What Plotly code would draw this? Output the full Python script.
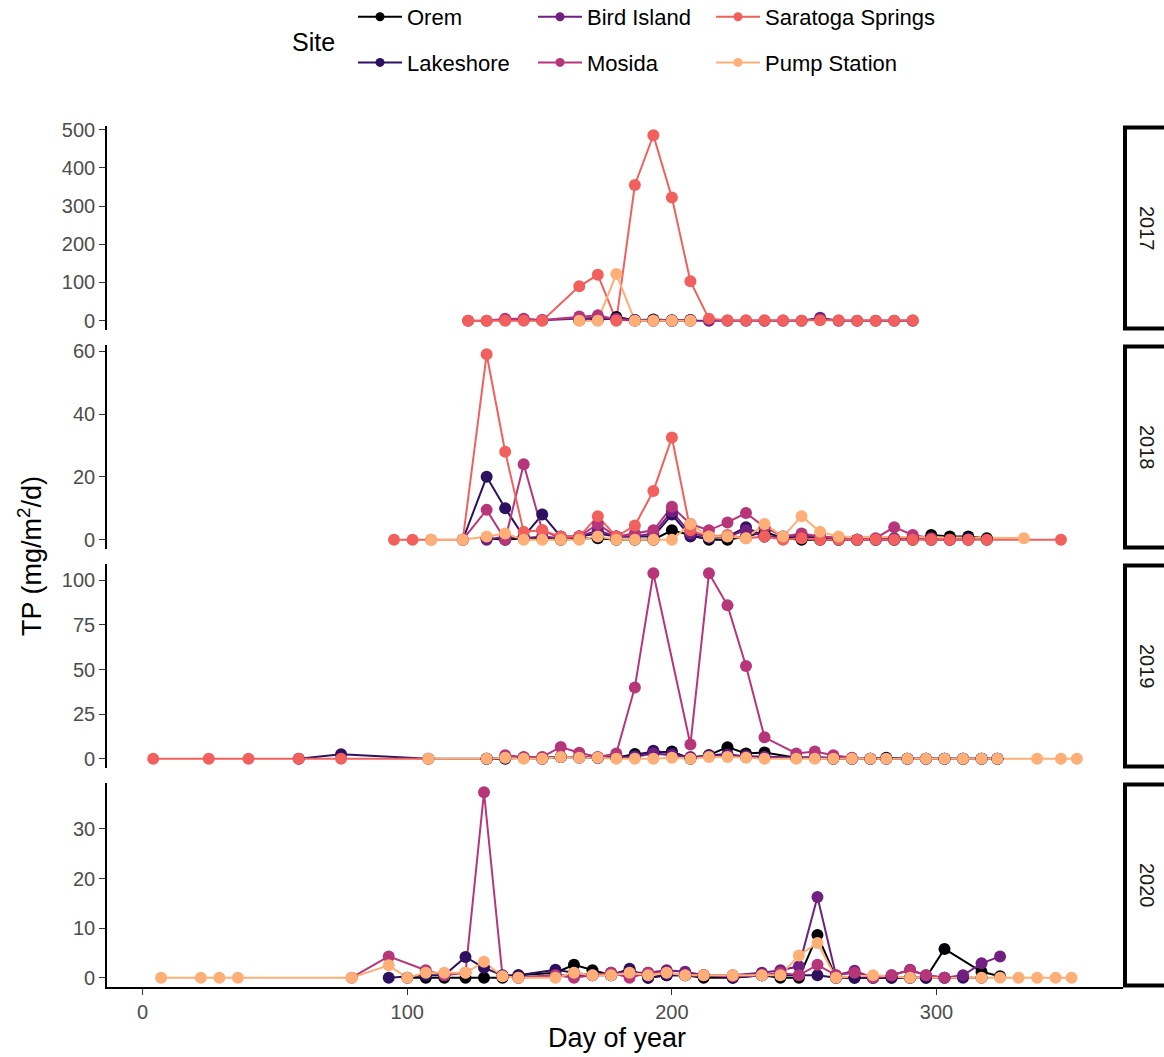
import plotly.graph_objects as go

# ---- sampling days (day of year) per year ----
day_2017 = [123, 130, 137, 144, 151, 158, 165, 172, 179, 186, 193, 200, 207, 214,
            221, 228, 235, 242, 249, 256, 263, 270, 277, 284, 291]
day_2018 = [95, 102, 109, 121, 130, 137, 144, 151, 158, 165, 172, 179, 186, 193, 200,
            207, 214, 221, 228, 235, 242, 249, 256, 263, 270, 277, 284, 291, 298, 305,
            312, 319, 333, 347]
day_2019 = [4, 25, 40, 59, 75, 108, 130, 137, 144, 151, 158, 165, 172, 179, 186, 193,
            200, 207, 214, 221, 228, 235, 247, 254, 261, 268, 275, 281, 289, 296, 303,
            310, 317, 323, 338, 347, 353]
day_2020 = [7, 22, 29, 36, 79, 93, 100, 107, 114, 122, 129, 136, 142, 156, 163, 170,
            177, 184, 191, 198, 205, 212, 223, 234, 241, 248, 255, 262, 269, 276, 283,
            290, 296, 303, 310, 317, 324, 331, 338, 345, 351]

N = None

# ---- TP flux (mg/m2/d); None = no sample that week ----
orem_2017 = [N, N, N, N, N, N, 1, 2, 10, 1, 3, 1, 2, N, N, N, N, N, N, N, N, N, N, N, N]
lakeshore_2017 = [N, N, N, N, N, N, 2, 3, 6, 2, 1, 0, 1, N, N, N, N, N, N, N, N, N, N, N, N]
bird_2017 = [N, N, 2, 3, 1, N, 6, 8, 5, 1, 0, 0, 0, 0, 0, 0, 0, 0, 0, 8, 0, 0, 0, 0, 0]
mosida_2017 = [0, 0, 5, 5, 2, N, 11, 14, 3, 0, 1, 0, 1, N, N, N, N, N, N, N, N, N, N, N, N]
saratoga_2017 = [0, 0, 0, 0, 0, N, 90, 120, 0, 355, 485, 322, 103, 5, 1, 1, 1, 1, 0, 1,
                 1, 0, 0, 0, 1]
pump_2017 = [N, N, N, N, N, N, 0, 0, 122, 0, 0, 0, 0, N, N, N, N, N, N, N, N, N, N, N, N]

orem_2018 = [N, N, N, N, 0.5, 0, 0.5, 0.5, 0, 0.5, 0.5, 0, 0, 0, 3, 1.5, 0, 0, 1, 2.5,
             0.5, 0, 0, 0, 0, 0, 0, 0, 1.5, 1, 1, 0.5, N, N]
lakeshore_2018 = [N, N, N, 0, 20, 10, 1, 8, 1, 1, 2, 1, 1, 1, 8, 1, 0.5, 1, 4, 1, 0.5, 1,
                  0.5, 0, 0, 0, 0, 0.5, 0, 0, 0.5, 0, N, N]
bird_2018 = [N, N, N, N, 0, 1, 0.5, 1, 0.5, 1, 3, 1, 1, 2, 9, 2, 1, 1, 3, 1, 1, 1.5, 1,
             0.5, 0, 0, 0.5, 0.5, 0, 0, 0, N, N, N]
mosida_2018 = [N, N, N, 0, 9.5, 0, 24, 3, 0.5, 1, 5, 1, 2, 3, 10.5, 5, 3, 5.5, 8.5, 4, 1,
               2, 1, 0.5, 0, 0.5, 4, 1.5, 0.5, 0, 0, N, N, N]
saratoga_2018 = [0, 0, 0, 0, 59, 28, 2.5, 3, 1, 1, 7.5, 1, 4.5, 15.5, 32.5, 3, 1, 1.5, 0.5,
                 1, 0, 0.5, 0, 0, 0, 0, 0, 0, 0, 0, 0, 0, N, 0]
pump_2018 = [N, N, 0, 0, 1, 2, 0, 0, 0, 0, 1, 0, 0, 0, 0, 5, 1, 1, 0.5, 5, 1, 7.5, 2.5, 1,
             N, N, N, N, N, N, N, N, 0.5, N]

orem_2019 = [N, N, N, N, N, N, 0, 0, 0.5, 0.5, 1, 1, 0.5, 0.5, 2.7, 3.5, 4, 0, 2, 6.5, 3,
             3.5, 0.5, 0.5, 0, 0, 0, 0.5, 0, 0, 0, 0, 0, 0, N, N, N]
lakeshore_2019 = [N, N, N, 0, 2.5, 0, 0, 0.5, 0.5, 0, 1, 0.5, 0.5, 1, 1.5, 4.5, 3, 0.5, 2,
                  2.5, 1, 1, 0.5, 0.5, 0, 0, 0, 0, 0, 0, 0, 0, 0, 0, N, N, N]
bird_2019 = [N, N, N, N, N, N, 0, 0.5, 0.5, 0, 1, 1, 0.5, 0.5, 1, 3, 2, 1, 1.5, 2, 1.5, 1,
             0.5, 1, 0.5, 0, 0, 0, 0, 0, 0, 0, 0, 0, N, N, N]
mosida_2019 = [N, N, N, N, N, N, N, 2, 1, 1, 6.6, 3.4, 1, 3, 40, 104, N, 8, 104, 86, 52,
               12, 3, 4, 2, 0.5, N, N, N, N, N, N, N, N, N, N, N]
saratoga_2019 = [0, 0, 0, 0, 0, 0, N, N, N, N, N, N, N, N, N, N, N, N, N, N, N, N, N, N,
                 N, N, N, N, N, N, N, N, N, N, N, N, N]
pump_2019 = [N, N, N, N, N, 0, 0, 0.5, 0, 0, 1, 0.5, 0.5, 0, 0, 0, 0.5, 0, 1, 1, 0.5, 0,
             0, 0, 0, 0, 0, 0, 0, 0, 0, 0, 0, 0, 0, 0, 0]

orem_2020 = [N, N, N, N, N, N, 0, 0, 0, 0, 0, 0, 0.5, 1, 2.6, 1.5, 0.5, 1.5, 0, 0.5, 0.5,
             0, 0, 0.5, 0, 0, 8.6, 0, 0, 0, 0, 0, 0, 5.8, N, 1.2, 0.3, N, N, N, N]
lakeshore_2020 = [N, N, N, N, N, 0, N, 0.5, 0.5, 4.2, 2, 0.5, 0.5, 1.6, 1, 0.5, 0.5, 1.8,
                  0, 0.5, 0.5, 0.5, 0, 0.5, 0.5, 0.5, 0.5, 0, 0, 0, 0, 0, 0, 0, 0, 0, N,
                  N, N, N, N]
bird_2020 = [N, N, N, N, N, N, N, N, N, N, N, N, 0, 0.5, 0.5, 0.5, 1, 1, 1, 1.5, 1.2, 0.5,
             0.5, 1, 1.5, 2.3, 16.3, 0.5, 1.4, 0, 0.5, 1.6, 0.5, 0, 0.5, 2.9, 4.3, N, N,
             N, N]
mosida_2020 = [N, N, N, N, 0, 4.3, N, 1.5, 0.5, 1, 37.4, 0.3, 0, 0.5, 0, 0.5, 1, 0, 1, 1,
               0.5, 0.5, 0.3, 0.5, 1, 0.5, 2.6, 0.5, 1, 0, 0.5, 1.5, 0.5, 0, N, N, N, N,
               N, N, N]
pump_2020 = [0, 0, 0, 0, 0, 2.5, 0, 1, 1, 1, 3.2, 0.3, 0, 0, 1, 0.5, 0.5, 1, 0.5, 1, 0.5,
             0.5, 0.5, 0.5, 0.5, 4.5, 7, 0, N, 0.5, N, 0, N, N, N, 0, 0, 0, 0, 0, 0]

years = ["2017", "2018", "2019", "2020"]
sites = ["Orem", "Lakeshore", "Bird Island", "Mosida", "Saratoga Springs", "Pump Station"]
colors = ["#000004", "#2D1160", "#721F81", "#B63679", "#F1605D", "#FEAF77"]

panels = {
    "2017": (day_2017, [orem_2017, lakeshore_2017, bird_2017, mosida_2017, saratoga_2017, pump_2017]),
    "2018": (day_2018, [orem_2018, lakeshore_2018, bird_2018, mosida_2018, saratoga_2018, pump_2018]),
    "2019": (day_2019, [orem_2019, lakeshore_2019, bird_2019, mosida_2019, saratoga_2019, pump_2019]),
    "2020": (day_2020, [orem_2020, lakeshore_2020, bird_2020, mosida_2020, None, pump_2020]),
}
y_ticks = {
    "2017": [0, 100, 200, 300, 400, 500],
    "2018": [0, 20, 40, 60],
    "2019": [0, 25, 50, 75, 100],
    "2020": [0, 10, 20, 30],
}

FONT = "Liberation Sans, Arial, sans-serif"

# ---- page geometry (px) ----
W, H = 1164, 1057
M_L, M_R, M_T, M_B = 107, 41, 126, 70
PANEL_H, GAP = 204, 15
plot_w = W - M_L - M_R
plot_h = H - M_T - M_B


def py(px):
    """pixel row -> paper y"""
    return (H - M_B - px) / plot_h


def pxx(px):
    """pixel column -> paper x"""
    return (px - M_L) / plot_w


def pairs(days, vals):
    xs, ys = [], []
    for d, v in zip(days, vals):
        if v is not None:
            xs.append(d)
            ys.append(v)
    return xs, ys


def expand(lo, hi, frac=0.05):
    span = hi - lo
    return [lo - frac * span, hi + frac * span]


fig = go.Figure()
all_days = []
layout_axes = {}
shapes = []
annotations = []

for i, yr in enumerate(years):
    days, series = panels[yr]
    ax = "" if i == 0 else str(i + 1)
    xa, ya = "x" + ax, "y" + ax
    all_days += days
    ymin, ymax = 0, 0
    # lines first (underneath), then points, like layered geoms
    for s, vals in enumerate(series):
        if vals is None:
            continue
        xs, ys = pairs(days, vals)
        ymin, ymax = min(ymin, min(ys)), max(ymax, max(ys))
        fig.add_trace(go.Scatter(x=xs, y=ys, mode="lines", xaxis=xa, yaxis=ya,
                                 line=dict(color=colors[s], width=2),
                                 showlegend=False, hoverinfo="skip"))
    for s, vals in enumerate(series):
        if vals is None:
            continue
        xs, ys = pairs(days, vals)
        fig.add_trace(go.Scatter(x=xs, y=ys, mode="markers", xaxis=xa, yaxis=ya,
                                 marker=dict(color=colors[s], size=12, line=dict(width=0)),
                                 name=sites[s], showlegend=False))

    top = M_T + i * (PANEL_H + GAP)
    bot = top + PANEL_H
    dom = [py(bot), py(top)]
    layout_axes["yaxis" + ax] = dict(
        domain=dom, anchor=xa, range=expand(ymin, ymax), tickvals=y_ticks[yr],
        showgrid=False, zeroline=False, showline=True, linecolor="#000000", linewidth=1.6,
        ticks="outside", ticklen=6, tickwidth=1.4, tickcolor="#333333",
        tickfont=dict(family=FONT, size=20, color="#4D4D4D"),
    )
    last = i == len(years) - 1
    layout_axes["xaxis" + ax] = dict(
        domain=[0, 1], anchor=ya, matches=None if i == 0 else "x",
        showgrid=False, zeroline=False,
        showline=last, linecolor="#000000", linewidth=1.6,
        ticks="outside" if last else "", ticklen=6, tickwidth=1.4, tickcolor="#333333",
        showticklabels=last, tickvals=[0, 100, 200, 300],
        tickfont=dict(family=FONT, size=20, color="#4D4D4D"),
    )
    # facet strip on the right
    shapes.append(dict(type="rect", xref="paper", yref="paper",
                       x0=pxx(1125), x1=pxx(1180), y0=dom[0] + 1.5 / plot_h,
                       y1=dom[1] - 1.5 / plot_h,
                       line=dict(color="#000000", width=4), fillcolor="#FFFFFF", layer="below"))
    annotations.append(dict(text=yr, xref="paper", yref="paper", x=pxx(1147),
                            y=(dom[0] + dom[1]) / 2, showarrow=False, textangle=90,
                            font=dict(family=FONT, size=20, color="#1A1A1A"),
                            xanchor="center", yanchor="middle"))

layout_axes["xaxis"]["range"] = expand(min(all_days), max(all_days))

# key: three columns of two entries, filled column by column in site order
legend_names = ["legend", "legend2", "legend3"]
for s, name in enumerate(sites):
    fig.add_trace(go.Scatter(x=[None], y=[None], mode="lines+markers", name=name,
                             line=dict(color=colors[s], width=2),
                             marker=dict(color=colors[s], size=9),
                             legend=legend_names[s // 2], legendgroup=name,
                             legendrank=s, showlegend=True))

col_left = [353, 533, 711]
legend_layout = {}
for c, lname in enumerate(legend_names):
    legend_layout[lname] = dict(
        orientation="v", xanchor="left", yanchor="middle",
        x=pxx(col_left[c]), y=py(40), tracegroupgap=14, itemwidth=44,
        font=dict(family=FONT, size=22, color="#000000"),
        bgcolor="rgba(0,0,0,0)", itemclick=False, itemdoubleclick=False,
    )

annotations.append(dict(text="Site", xref="paper", yref="paper", x=pxx(313), y=py(42),
                        showarrow=False, xanchor="center", yanchor="middle",
                        font=dict(family=FONT, size=25, color="#000000")))
annotations.append(dict(text="Day of year", xref="paper", yref="paper", x=pxx(617),
                        y=py(1038), showarrow=False, xanchor="center", yanchor="middle",
                        font=dict(family=FONT, size=27, color="#000000")))
annotations.append(dict(text="TP (mg/m<sup>2</sup>/d)", xref="paper", yref="paper",
                        x=pxx(30), y=py(556), showarrow=False, textangle=-90,
                        xanchor="center", yanchor="middle",
                        font=dict(family=FONT, size=27, color="#000000")))

fig.update_layout(
    width=W, height=H,
    margin=dict(l=M_L, r=M_R, t=M_T, b=M_B, autoexpand=False),
    paper_bgcolor="#FFFFFF", plot_bgcolor="#FFFFFF",
    shapes=shapes, annotations=annotations,
    hovermode="closest",
    **legend_layout,
    **layout_axes,
)

fig.write_html("out.html")
